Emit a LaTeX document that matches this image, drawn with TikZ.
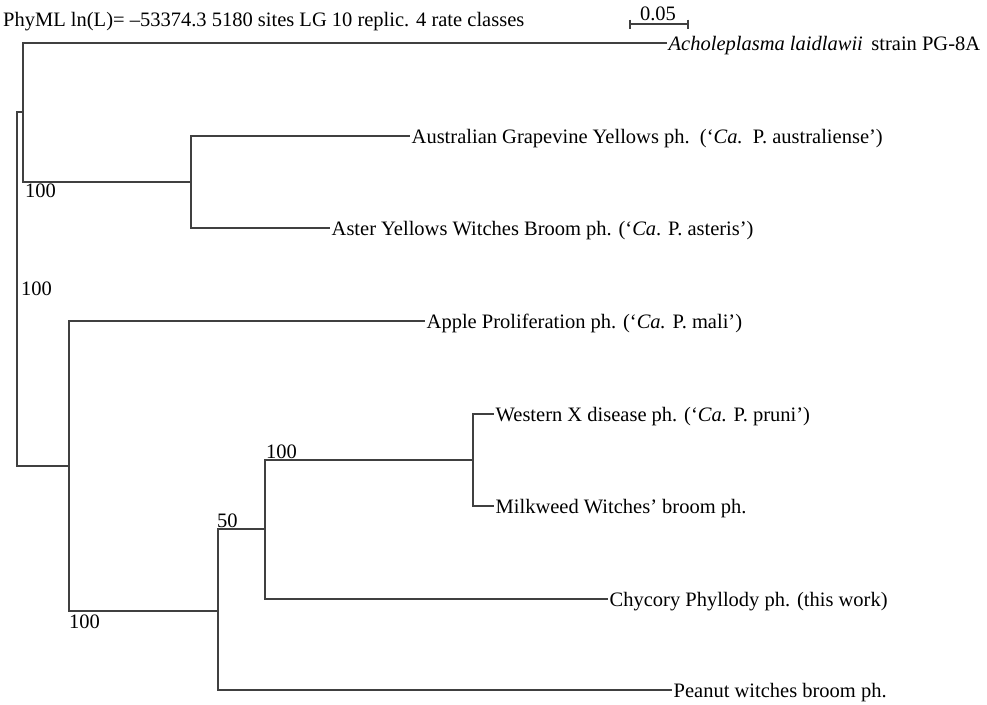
\documentclass[tikz,border=0pt]{standalone}
\usepackage{fontspec}
\setmainfont{Liberation Serif}
\usepackage{tikz}
\usetikzlibrary{positioning, calc}

\begin{document}
\begin{tikzpicture}[
            x=1pt, y=-1pt,
            branch/.style={draw=black!75, line width=1.3pt},
            leaf/.style={anchor=west, inner sep=1.5pt, text height=14pt, text depth=0pt, font=\fontsize{20.5}{24}\selectfont},
            boot/.style={anchor=base west, inner sep=0pt, font=\fontsize{20.5}{24}\selectfont},
            scalebar/.style={draw=black!75, line width=1.1pt}
        ]

        \useasboundingbox (0,0) rectangle (987,704);

        % Titel
        \node[boot] (title) at (3,26) {PhyML ln(L)= –53374.3 5180 sites LG 10 replic. 4 rate classes};

        % Massstab
        \coordinate (sbl) at (630,24);
        \coordinate (sbr) at (688,24);
        \draw[scalebar] (sbl) -- (sbr);
        \draw[scalebar] ($(sbl)+(0,-4.5)$) -- ($(sbl)+(0,4.5)$);
        \draw[scalebar] ($(sbr)+(0,-4.5)$) -- ($(sbr)+(0,4.5)$);
        \node[boot, anchor=base] (sblabel) at (658,20) {0.05};

        % Innere Knoten
        \coordinate (root) at (17,289.5);
        \coordinate (nA) at (23,112);
        \coordinate (nB) at (191,182);
        \coordinate (nC) at (69,466);
        \coordinate (nD) at (218,611);
        \coordinate (nE) at (265,529);
        \coordinate (nF) at (473,460);

        % Blaetter
        \node[leaf] (acho) at (667,43) {\textit{Acholeplasma laidlawii}\, strain PG-8A};
        \node[leaf] (aust) at (410,136) {Australian Grapevine Yellows ph.\ \ (`\textit{Ca.}\, P. australiense')};
        \node[leaf] (aster) at (330,228) {Aster Yellows Witches Broom ph. (`\textit{Ca}. P. asteris')};
        \node[leaf] (apple) at (425,321) {Apple Proliferation ph. (`\textit{Ca.} P. mali')};
        \node[leaf] (west) at (494,414) {Western X disease ph. (`\textit{Ca.} P. pruni')};
        \node[leaf] (milk) at (494,506) {Milkweed Witches' broom ph.};
        \node[leaf] (chyc) at (608,599) {Chycory Phyllody ph. (this work)};
        \node[leaf] (peanut) at (672,690) {Peanut witches broom ph.};

        % Kanten
        \draw[branch] (root) |- (nA);
        \draw[branch] (root) |- (nC);
        \draw[branch] (nA) |- (acho.west);
        \draw[branch] (nA) |- (nB);
        \draw[branch] (nB) |- (aust.west);
        \draw[branch] (nB) |- (aster.west);
        \draw[branch] (nC) |- (apple.west);
        \draw[branch] (nC) |- (nD);
        \draw[branch] (nD) |- (nE);
        \draw[branch] (nD) |- (peanut.west);
        \draw[branch] (nE) |- (nF);
        \draw[branch] (nE) |- (chyc.west);
        \draw[branch] (nF) |- (west.west);
        \draw[branch] (nF) |- (milk.west);

        % Bootstrap
        \node[boot] (bsA) at (25,197) {100};
        \node[boot] (bsroot) at (21,295) {100};
        \node[boot] (bsC) at (69,628) {100};
        \node[boot] (bsD) at (217,527) {50};
        \node[boot] (bsE) at (266,458) {100};

    \end{tikzpicture}
\end{document}
